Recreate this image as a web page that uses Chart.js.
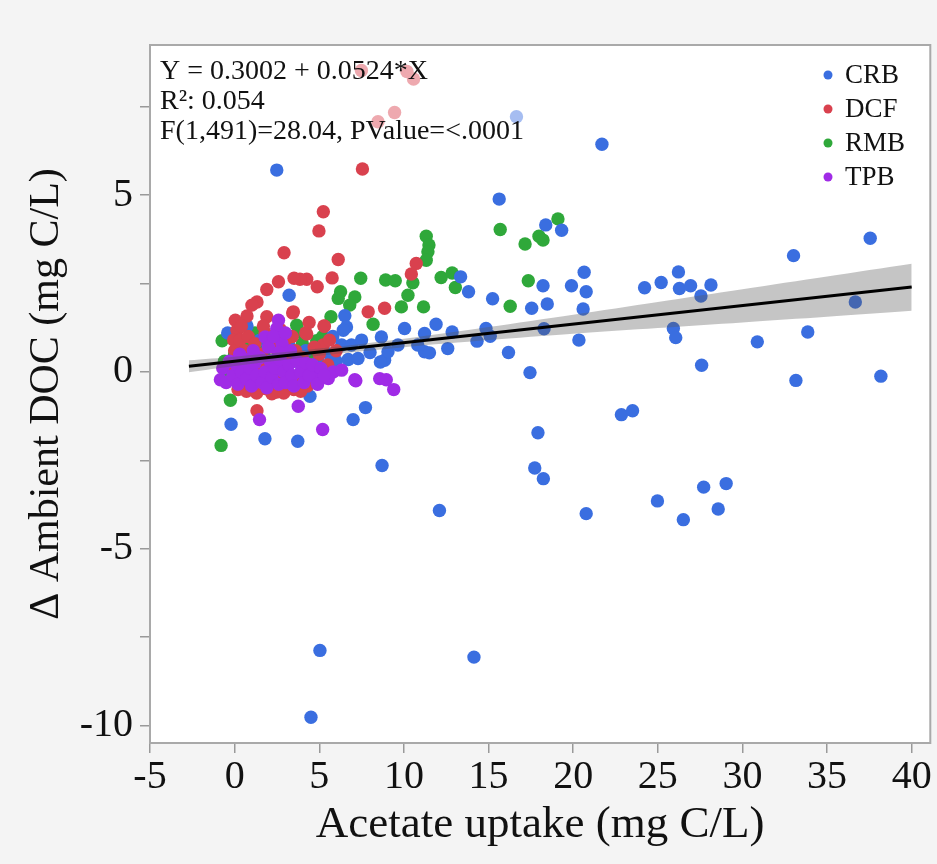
<!DOCTYPE html>
<html>
<head>
<meta charset="utf-8">
<script src="https://cdn.jsdelivr.net/npm/chart.js@4.4.0/dist/chart.umd.min.js"></script>
<style>
html, body { margin: 0; padding: 0; background: #f4f4f4; }
#wrap { width: 937px; height: 864px; }
</style>
</head>
<body>
<div id="wrap"><canvas id="plot" width="937" height="864"></canvas></div>
<script>
// series: [acetate uptake, delta ambient DOC]
var crb = [
	[16.65,7.22],[21.7,6.44],[15.63,4.89],[18.38,4.16],[19.32,4.01],[13.35,2.69],[13.82,2.27],[15.24,2.07],
	[18.22,2.44],[17.55,1.8],[18.47,1.92],[19.9,2.44],[20.65,2.82],[20.77,2.27],[20.59,1.78],[20.34,0.9],
	[18.28,1.22],[14.85,1.23],[15.1,1.01],[14.32,0.87],[12.85,1.13],[12.59,0.66],[16.18,0.55],[17.45,-0.02],
	[24.22,2.38],[25.2,2.53],[26.22,2.83],[26.28,2.36],[26.94,2.44],[28.14,2.46],[27.55,2.15],[25.92,1.23],
	[26.06,0.97],[27.59,0.19],[30.88,0.85],[33.02,3.29],[33.86,1.13],[33.16,-0.24],[36.67,1.98],[37.55,3.78],
	[38.18,-0.12],[17.92,-1.72],[17.73,-2.72],[18.24,-3.02],[22.85,-1.21],[23.51,-1.1],[20.77,-4.01],
	[24.98,-3.65],[26.51,-4.18],[27.71,-3.26],[29.04,-3.16],[28.57,-3.88],[12.1,-3.92],[8.71,-2.65],
	[5.04,-7.88],[14.14,-8.07],[4.51,-9.77],
	[2.49,5.71],[3.22,2.17],[6.51,1.59],[6.61,1.27],[6.42,1.18],[6.32,0.76],[6.9,0.76],[6.71,0.35],[7.29,0.38],
	[8.67,0.99],[8.86,0.33],[9.06,0.57],[10.04,1.23],[9.65,0.76],[11.22,1.09],[11.9,1.35],[11.22,0.57],
	[10.82,0.76],[11.51,0.54],[8.61,0.28],[5.04,0.14],[5.53,0.1],[4.45,-0.69],[7.73,-1.01],[7.0,-1.35],
	[-0.21,-1.48],[1.79,-1.89],[3.73,-1.96],[-0.41,1.1],[0.73,1.3],[2.0,0.71],[3.18,0.8],[4.94,0.28],[4.16,0.1],
	[0.2,0.5],[1.0,0.3],[1.5,0.9],[2.5,0.4],[3.5,0.3],[4.2,0.6],[5.6,0.5],[5.8,1.0],[6.0,0.3],[7.5,0.9],
	[8.0,0.55],[-0.3,0.2],[0.8,-0.2],[2.8,-0.3]
];
var dcf = [
	[7.49,8.53],[10.18,8.5],[10.57,8.29],[9.45,7.34],[8.47,7.08],
	[7.55,5.74],[5.24,4.53],[4.98,3.99],[6.12,3.18],[5.76,2.66],[4.26,2.62],[3.86,2.62],[3.51,2.65],[4.88,2.41],
	[2.92,3.37],[2.59,2.55],[1.9,2.33],[1.32,1.98],[1.02,1.89],[0.73,1.58],[0.04,1.46],[1.9,1.56],[3.43,1.67],
	[5.3,1.29],[4.2,1.1],[7.89,1.7],[8.86,1.8],[10.44,2.77],[10.73,3.07],[5.28,1.3],[4.26,1.07],[5.24,0.76],
	[1.32,-1.1],[0.14,1.18],[-0.06,0.9],[3.47,1.7],[2.49,-0.57],[2.98,-0.52],[1.02,-0.42],[0.43,-0.33],[1.8,-0.47],
	[0,0.6],[0.1,0.3],[0.3,0.9],[0.5,0.1],[0.6,0.6],[0.8,1.0],[0.9,-0.1],[1.1,0.4],[1.2,0.8],[1.4,0.1],
	[1.5,-0.2],[1.6,0.5],[1.8,1.1],[2.0,0.2],[2.1,-0.3],[2.3,0.7],[2.5,0.0],[2.6,-0.4],[2.8,0.4],[3.0,0.9],
	[3.1,-0.1],[3.3,0.3],[3.5,-0.5],[3.6,0.6],[3.8,-0.2],[4.0,0.4],[4.3,-0.4],[4.5,0.2],[4.7,0.7],[0.2,-0.5],
	[0.7,-0.55],[1.3,-0.6],[2.2,-0.62],[2.9,-0.6],[3.9,-0.55],[4.9,-0.3],[-0.2,0.2],[-0.1,-0.2],[0.4,1.3],
	[1.7,1.3],[2.7,1.2],[3.4,1.0],[4.4,1.4],[5.6,0.9],[5.0,0.5],[5.5,0.2],[6.0,0.6]
];
var rmb = [
	[11.32,3.84],[11.48,3.59],[11.42,3.4],[11.32,3.16],[7.45,2.65],[8.92,2.6],[9.49,2.58],[10.53,2.52],
	[10.24,2.17],[9.85,1.84],[11.16,1.84],[12.2,2.67],[12.85,2.8],[13.04,2.39],[6.26,2.27],[6.12,2.08],
	[7.1,2.12],[6.8,1.89],[5.69,1.56],[8.18,1.35],[4.85,0.88],[-0.74,0.88],[-0.25,-0.8],[-0.8,-2.08],
	[3.67,1.32],[3.86,1.13],[2.1,0.9],[2.98,0.85],[15.69,4.03],[17.16,3.62],[17.98,3.84],[18.22,3.73],
	[19.1,4.33],[17.35,2.58],[16.28,1.86],
	[0.0,0.5],[0.5,0.8],[1.0,0.1],[1.5,0.6],[2.0,-0.2],[2.5,0.9],[3.0,0.2],[3.3,-0.3],[4.0,0.8],[4.5,0.4],
	[1.2,1.1],[0.3,-0.3],[2.7,-0.5],[3.9,-0.4],[-0.6,0.3],[-0.5,-0.2],[5.2,1.0],[4.8,0.6],[1.8,0.4]
];
var tpb = [
	[2.59,1.46],[2.49,1.23],[1.8,0.99],[7.1,-0.22],[8.57,-0.19],[8.96,-0.22],[9.4,-0.5],[3.76,-0.97],
	[1.47,-1.35],[5.2,-1.63],[-0.84,-0.22],[4.26,-0.05],[4.75,-0.14],[5.82,0.0],[6.32,0.05],[5.53,-0.19],
	[7.16,-0.25],
	[-0.7,0.1],[-0.5,-0.3],[-0.3,0.3],[-0.1,-0.1],[0.1,0.2],[0.2,-0.35],[0.4,0.0],[0.6,0.35],[0.7,-0.2],
	[0.9,0.1],[1.0,-0.4],[1.2,0.25],[1.3,-0.1],[1.5,0.4],[1.6,-0.3],[1.8,0.0],[1.9,-0.45],[2.1,0.3],
	[2.2,-0.15],[2.4,0.1],[2.6,-0.35],[2.7,0.35],[2.9,0.0],[3.0,-0.3],[3.2,0.2],[3.4,-0.1],[3.5,-0.4],
	[3.7,0.3],[3.9,0.0],[4.1,-0.3],[4.2,0.25],[4.4,-0.1],[4.6,0.2],[4.9,-0.35],[5.1,0.1],[5.3,-0.1],
	[2.0,0.7],[2.8,0.8],[3.3,0.6],[1.1,0.6],[0.3,0.5],[2.3,1.0],[3.0,1.1],[2.6,0.55]
];
var groupNames = ['CRB', 'DCF', 'RMB', 'TPB'];
var groupColors = ['#3a6ee0', '#d9414e', '#2fa83a', '#a02be6'];

// fitted line and its confidence band
var fitX = [-2.7, 40];
var fitY = [0.16, 2.40];
var bandX = [-2.7, 0, 5, 10, 15, 20, 25, 30, 35, 40];
var bandHi = [0.33, 0.43, 0.66, 0.94, 1.27, 1.62, 1.98, 2.34, 2.70, 3.06];
var bandLo = [-0.01, 0.17, 0.46, 0.70, 0.90, 1.08, 1.24, 1.40, 1.56, 1.73];

var xTicks = [-5, 0, 5, 10, 15, 20, 25, 30, 35, 40];
var yTicks = [-10, -7.5, -5, -2.5, 0, 2.5, 5, 7.5];
var statLines = ['Y = 0.3002 + 0.0524*X', 'R\u00b2: 0.054', 'F(1,491)=28.04, PValue=<.0001'];

var serif = "'Times New Roman', 'Liberation Serif', serif";

function pts(arr) {
	return arr.map(function(p) { return {x: p[0], y: p[1]}; });
}
function xy(xs, ys) {
	return xs.map(function(v, i) { return {x: v, y: ys[i]}; });
}

var groups = [crb, dcf, rmb, tpb];
// lower order is painted later (on top)
var drawOrder = [3, 2, 4, 1];
var datasets = [];
for (var i = 0; i < groups.length; i++) {
	datasets.push({
		label: groupNames[i],
		data: pts(groups[i]),
		backgroundColor: groupColors[i],
		borderWidth: 0,
		pointRadius: 6.7,
		pointHoverRadius: 6.7,
		order: drawOrder[i]
	});
}
datasets.push({
	type: 'line', label: 'upper', data: xy(bandX, bandHi),
	borderWidth: 0, pointRadius: 0, fill: 5,
	backgroundColor: 'rgba(90,90,90,0.35)', order: 0, tension: 0.3
});
datasets.push({
	type: 'line', label: 'lower', data: xy(bandX, bandLo),
	borderWidth: 0, pointRadius: 0, fill: false, order: 0, tension: 0.3
});
datasets.push({
	type: 'line', label: 'fit', data: xy(fitX, fitY),
	borderColor: '#000', borderWidth: 3, pointRadius: 0, fill: false, order: -1
});

var decor = {
	id: 'decor',
	beforeDraw: function(chart) {
		var c = chart.ctx, a = chart.chartArea;
		c.save();
		c.fillStyle = '#f4f4f4';
		c.fillRect(0, 0, chart.width, chart.height);
		c.fillStyle = '#ffffff';
		c.fillRect(a.left, a.top, a.right - a.left, a.bottom - a.top);
		c.restore();
	},
	afterDatasetsDraw: function(chart) {
		var c = chart.ctx, a = chart.chartArea;
		c.save();
		// stats box, semi transparent so the points under it fade
		c.fillStyle = 'rgba(255,255,255,0.55)';
		c.fillRect(a.left + 4, a.top + 4, 374, 104);
		c.fillStyle = '#111';
		c.font = '28px ' + serif;
		c.textBaseline = 'middle';
		c.textAlign = 'left';
		for (var i = 0; i < statLines.length; i++) {
			c.fillText(statLines[i], a.left + 10, a.top + 27 + i * 30);
		}
		// legend
		c.font = '27px ' + serif;
		for (var j = 0; j < groupNames.length; j++) {
			var ly = a.top + 30 + j * 34;
			c.fillStyle = groupColors[j];
			c.beginPath();
			c.arc(828, ly, 4.5, 0, Math.PI * 2);
			c.fill();
			c.fillStyle = '#111';
			c.fillText(groupNames[j], 845, ly + 1);
		}
		// frame
		c.strokeStyle = '#a9a9a9';
		c.lineWidth = 2;
		c.strokeRect(a.left, a.top, a.right - a.left, a.bottom - a.top);
		c.restore();
	}
};

new Chart(document.getElementById('plot'), {
	type: 'scatter',
	data: { datasets: datasets },
	options: {
		responsive: false,
		animation: false,
		layout: { padding: { top: 45, right: 4, left: 0, bottom: 0 } },
		plugins: {
			legend: { display: false },
			tooltip: { enabled: false }
		},
		scales: {
			x: {
				type: 'linear', min: -5, max: 41.1,
				afterBuildTicks: function(s) { s.ticks = xTicks.map(function(v) { return {value: v}; }); },
				afterFit: function(s) { s.height = 121; },
				grid: { display: true, drawOnChartArea: false, drawTicks: true, tickLength: 10, color: '#999', lineWidth: 1.5 },
				border: { display: false },
				ticks: { autoSkip: false, maxRotation: 0, padding: 0, color: '#111', font: { family: serif, size: 40 } },
				title: { display: true, text: 'Acetate uptake (mg C/L)', color: '#111', font: { family: serif, size: 45 }, padding: { top: 0, bottom: 12 } }
			},
			y: {
				type: 'linear', min: -10.5, max: 9.25,
				afterBuildTicks: function(s) { s.ticks = yTicks.map(function(v) { return {value: v}; }); },
				afterFit: function(s) { s.width = 150; },
				grid: { display: true, drawOnChartArea: false, drawTicks: true, tickLength: 10, color: '#999', lineWidth: 1.5 },
				border: { display: false },
				ticks: {
					autoSkip: false, padding: 7, color: '#111', font: { family: serif, size: 40 },
					callback: function(v) { return v % 5 === 0 ? String(v) : ''; }
				},
				title: { display: true, text: '\u0394 Ambient DOC (mg C/L)', color: '#111', font: { family: serif, size: 42 }, padding: { top: 22, bottom: 0 } }
			}
		}
	},
	plugins: [decor]
});
</script>
</body>
</html>
